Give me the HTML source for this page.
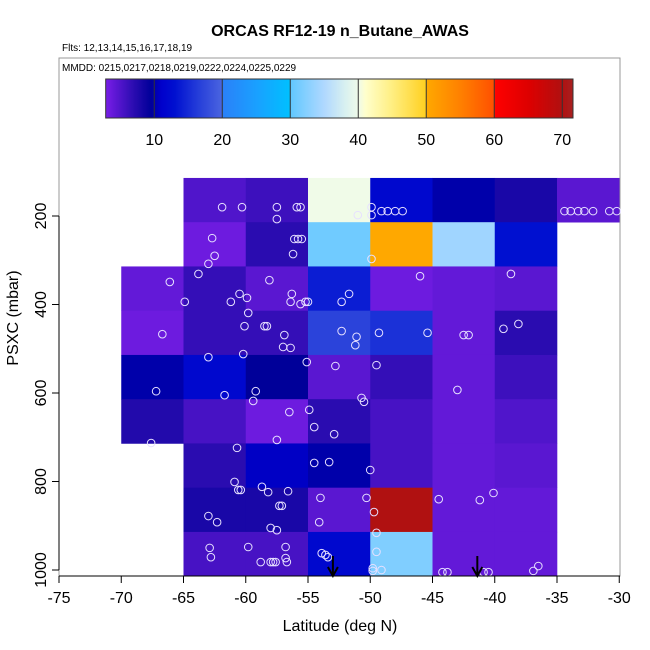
<!DOCTYPE html>
<html><head><meta charset="utf-8"><style>
html,body{margin:0;padding:0;background:#fff;}
svg{display:block;font-family:"Liberation Sans",Arial,sans-serif;}
</style></head><body>
<svg id="chart" width="650" height="650" viewBox="0 0 650 650" xmlns="http://www.w3.org/2000/svg">
<defs><linearGradient id="cbgrad" x1="0" x2="1" y1="0" y2="0"></linearGradient></defs>
<text x="340" y="36" text-anchor="middle" font-size="16" font-weight="bold">ORCAS RF12-19 n_Butane_AWAS</text>
<text x="62" y="51" font-size="10">Flts: 12,13,14,15,16,17,18,19</text>
<rect x="59" y="58" width="561" height="518" fill="none" stroke="#999" stroke-width="1"/>
<text x="62" y="71" font-size="10">MMDD: 0215,0217,0218,0219,0222,0224,0225,0229</text>
<g id="cells"></g>
<g id="pts"></g>
<g id="arrows"></g>
<g id="cbar"></g>
<g id="axes"></g>
<text x="340" y="631" text-anchor="middle" font-size="16">Latitude (deg N)</text>
<text transform="translate(18,318) rotate(-90)" text-anchor="middle" font-size="16">PSXC (mbar)</text>
</svg>
<script>
const latEdges = [-70,-65,-60,-55,-50,-45,-40,-35,-30];
const presEdges = [114,214,314,414,514,614,714,814,914,1014];
const cellValues = [
 [null,5,6,40,12,10,8,4.5],
 [null,3.5,7,31,50,34,13,null],
 [4,6.5,4.5,14,3.5,4,4.5,null],
 [3.5,6.5,6.5,17,15.5,4,7,null],
 [10,12,9.5,4.5,6.5,4,6,null],
 [7.5,5.5,3.5,7,5.5,4,5,null],
 [null,7,10.8,10,5.5,4,4.5,null],
 [null,8,8,4.5,70,4,4,null],
 [null,5.5,5.5,12,32,4,4,null]
];
const pointLat = [-61.9,-60.3,-57.5,-55.9,-55.6,-57.5,-49.9,-51.0,-49.9,-49.1,-48.6,-48.0,-47.4,-34.4,-33.9,-33.3,-32.8,-32.1,-30.8,-30.2,
 -62.7,-62.5,-63.0,-56.1,-55.8,-55.5,-56.2,-49.9,-63.8,-66.1,-64.9,-61.2,-60.5,-59.9,-58.1,-56.3,-56.4,-55.6,-55.2,-55.0,-52.3,-51.7,-46.0,-38.7,
 -59.8,-66.7,-60.1,-58.5,-58.3,-56.9,-57.0,-56.4,-52.3,-51.1,-51.2,-49.3,-45.4,-42.5,-42.1,-39.3,-38.1,-63.0,-60.2,-55.1,-52.8,-49.5,
 -67.2,-61.7,-59.2,-59.4,-56.5,-54.9,-54.5,-52.9,-50.7,-50.5,-43.0,-67.6,-57.5,-60.7,-54.5,-53.3,-50.0,
 -60.9,-60.6,-60.4,-58.7,-58.2,-56.6,-54.0,-50.3,-44.5,-41.2,-40.1,-63.0,-62.3,-57.3,-57.1,-58.0,-57.5,-54.1,-49.7,-49.5,
 -62.9,-62.8,-59.8,-58.8,-58.0,-57.8,-57.6,-56.8,-56.8,-56.7,-53.9,-53.6,-53.4,-49.5,-49.8,-49.8,-49.1,-44.2,-43.8,-40.9,-40.5,-36.9,-36.5];
const pointPres = [180,180,180,180,180,207,180,198,198,189,189,189,189,189,189,189,189,189,189,189,
 250,290,308,252,252,252,286,297,331,349,394,394,376,385,345,376,394,399,394,394,394,376,336,331,
 419,467,449,449,449,469,496,498,460,473,492,464,464,469,469,455,444,519,512,530,539,537,
 596,605,596,618,643,638,677,693,611,620,593,713,706,724,758,756,774,
 801,819,819,812,824,822,837,837,840,842,826,878,892,855,855,905,910,892,869,916,
 950,971,948,982,982,982,982,948,973,982,962,966,971,959,996,1002,1000,1005,1005,1005,1005,1002,991];
const arrowLat = [-53.0,-41.4];
const cbTicks = [10,20,30,40,50,60,70];
const xTicks = [-75,-70,-65,-60,-55,-50,-45,-40,-35,-30];
const yTicks = [200,400,600,800,1000];
const colorStops = [[2.8,'#7a1ee8'],[7,'#2a0cb0'],[9.5,'#000099'],[11,'#0000cc'],[13,'#0010d0'],[16,'#2038d8'],[19.9,'#4a64e0'],[20,'#2a80f8'],[25,'#1aa0ff'],[29.9,'#00c0ff'],[30,'#60c8ff'],[35,'#b0d8ff'],[38,'#d8f0f0'],[40,'#f0fbe8'],[41,'#ffffcc'],[45,'#ffee80'],[49.9,'#ffd020'],[50,'#ffa800'],[55,'#ff8000'],[59.9,'#ff5000'],[60,'#ff0000'],[65,'#dd0000'],[69.9,'#b01010'],[71.5,'#a82020']];

const NS='http://www.w3.org/2000/svg';
function X(lat){return 59+(lat+75)*12.45;}
function Y(p){return 216+(p-200)*0.4425;}
function CB(v){return 105.7+(v-2.86)*6.8;}
function hex(c){return [1,3,5].map(i=>parseInt(c.substr(i,2),16));}
function color(v){
  if(v<=colorStops[0][0])return colorStops[0][1];
  for(let i=1;i<colorStops.length;i++){
    if(v<=colorStops[i][0]){
      const a=colorStops[i-1],b=colorStops[i];const t=(v-a[0])/(b[0]-a[0]);
      const ca=hex(a[1]),cb=hex(b[1]);
      return 'rgb('+ca.map((x,k)=>Math.round(x+(cb[k]-x)*t)).join(',')+')';
    }
  }
  return colorStops[colorStops.length-1][1];
}
function mk(tag,attrs,parent){const e=document.createElementNS(NS,tag);for(const k in attrs)e.setAttribute(k,attrs[k]);parent.appendChild(e);return e;}

const cells=document.getElementById('cells');
cellValues.forEach((row,r)=>row.forEach((v,c)=>{
  if(v===null)return;
  const x0=X(latEdges[c]),x1=X(latEdges[c+1]),y0=Y(presEdges[r]),y1=Y(presEdges[r+1]);
  const e=mk('rect',{x:x0,y:y0,width:x1-x0+0.3,height:y1-y0+0.3,fill:color(v)},cells);
  
  
}));

const pts=document.getElementById('pts');
pointLat.forEach((lat,i)=>{
  const e=mk('circle',{cx:X(lat),cy:Y(pointPres[i]),r:3.8,fill:'none',stroke:'#e6e0ff','stroke-width':1},pts);
  
  
});

const arrows=document.getElementById('arrows');
arrowLat.forEach(lat=>{
  const x=X(lat);
  const g=mk('g',{},arrows);
  
  
  mk('line',{x1:x,y1:556,x2:x,y2:575,stroke:'#000','stroke-width':2},g);
  mk('path',{d:`M${x-5},${567} L${x},${576} L${x+5},${567}`,fill:'none',stroke:'#000','stroke-width':2},g);
});

const grad=document.getElementById('cbgrad');
for(let v=2.86;v<=71.5;v+=0.25){
  mk('stop',{offset:((v-2.86)/(71.5-2.86)).toFixed(4),'stop-color':color(v)},grad);
}
const cbar=document.getElementById('cbar');
const cbRect=mk('rect',{x:105.7,y:79,width:573-105.7,height:39,fill:'url(#cbgrad)',stroke:'#333','stroke-width':1},cbar);


cbTicks.forEach(t=>{
  const x=CB(t);
  mk('line',{x1:x,y1:79,x2:x,y2:118,stroke:'#333','stroke-width':1},cbar);
  const tx=mk('text',{x:x,y:145,'text-anchor':'middle','font-size':16},cbar);
  tx.textContent=t;
  
  
});

const axes=document.getElementById('axes');
mk('line',{x1:59,y1:576,x2:620,y2:576,stroke:'#000','stroke-width':1},axes);
mk('line',{x1:59,y1:Y(1000),x2:59,y2:Y(200),stroke:'#000','stroke-width':1},axes);
xTicks.forEach(t=>{
  const x=X(t);
  mk('line',{x1:x,y1:576,x2:x,y2:583,stroke:'#000','stroke-width':1},axes);
  const tx=mk('text',{x:x,y:603,'text-anchor':'middle','font-size':16},axes);
  tx.textContent=t;
  
  
});
yTicks.forEach(t=>{
  const y=Y(t);
  mk('line',{x1:52,y1:y,x2:59,y2:y,stroke:'#000','stroke-width':1},axes);
  const tx=mk('text',{x:0,y:0,'text-anchor':'middle','font-size':16,transform:`translate(46,${y}) rotate(-90)`},axes);
  tx.textContent=t;
  
  
});
</script>
</body></html>
